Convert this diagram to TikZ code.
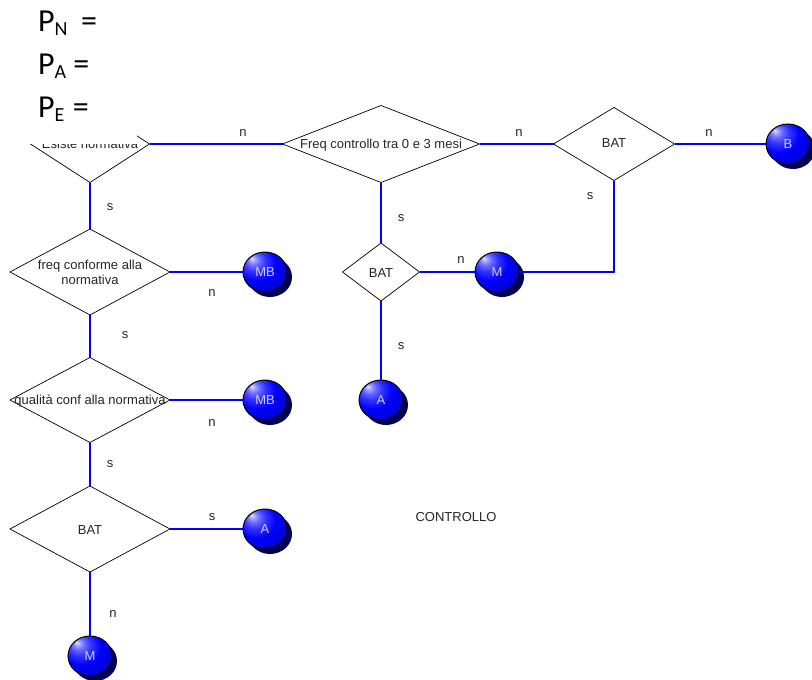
\documentclass[tikz,border=0pt]{standalone}
\usepackage{fontspec}
\setmainfont{Liberation Sans}
\newfontfamily\carlito{Carlito}
\usetikzlibrary{shapes.geometric,shadows}
\definecolor{linkblue}{RGB}{0,0,255}
\definecolor{ballshadow}{RGB}{0,0,90}
\pgfdeclareradialshading{blueball}{\pgfpoint{-15bp}{17bp}}{
  color(0bp)=(white!90!blue);
  color(3bp)=(white!65!blue);
  color(7bp)=(white!42!blue);
  color(13bp)=(white!20!blue);
  color(22bp)=(blue);
  color(32bp)=(blue!85!black);
  color(45bp)=(blue!65!black);
  color(60bp)=(blue!50!black)}
\tikzset{
  x=1pt,y=-1pt,
  dec/.style={draw=black,line width=0.7pt,shape=diamond,inner sep=0pt,outer sep=0pt},
  dectext/.style={font=\fontsize{13}{15}\selectfont,text=black!85,align=center,inner sep=0pt},
  link/.style={draw=linkblue,line width=2.2pt},
  ball/.style={shape=ellipse,draw=black,line width=1pt,minimum width=44pt,minimum height=40pt,inner sep=0pt,outer sep=0pt,
    shading=blueball,
    drop shadow={shadow xshift=5pt,shadow yshift=-5pt,opacity=1,fill=ballshadow},
    text=white!80!blue,font=\fontsize{13}{15}\selectfont},
  lab/.style={font=\fontsize{13}{15}\selectfont,text=black!85,inner sep=0pt},
  ptext/.style={font=\carlito\fontsize{32}{38}\selectfont,text=black,anchor=base west,inner sep=0pt},
}
\newcommand{\psubs}[1]{\raisebox{-4pt}{\fontsize{20}{24}\selectfont #1}}
\begin{document}
\begin{tikzpicture}
\useasboundingbox[fill=white] (0,0) rectangle (812,680);
% decisions
\node[dec,minimum width=119pt,minimum height=77pt] (d1) at (90,144) {};
\node[dectext,anchor=base] (t1) at (90,148.5) {Esiste normativa};
\fill[white] (0,90) rectangle (137,143.6);
\node[dec,minimum width=197pt,minimum height=77pt] (d2) at (381,144) {};
\node[dectext] (t2) at (381,145) {Freq controllo tra 0 e 3 mesi};
\node[dec,minimum width=121pt,minimum height=73pt] (d3) at (614,144) {};
\node[dectext] (t3) at (614,143) {BAT};
\node[dec,minimum width=77pt,minimum height=58pt] (d4) at (381,272) {};
\node[dectext] (t4) at (381,273) {BAT};
\node[dec,minimum width=160pt,minimum height=86pt] (d5) at (90,272) {};
\node[dectext] (t5) at (90,272) {freq conforme alla\\normativa};
\node[dec,minimum width=160pt,minimum height=85pt] (d6) at (90,400) {};
\node[dectext] (t6) at (90,401) {qualità conf alla normativa};
\node[dec,minimum width=160pt,minimum height=86pt] (d7) at (90,529) {};
\node[dectext] (t7) at (90,530) {BAT};
% balls
\node[ball] (bB) at (788,144) {\raisebox{-1pt}{B}};
\node[ball] (bM) at (497,272) {\raisebox{-1pt}{M}};
\node[ball] (bA) at (381,400) {\raisebox{-1pt}{A}};
\node[ball] (bMB1) at (265,272) {\raisebox{-1pt}{MB}};
\node[ball] (bMB2) at (265,400) {\raisebox{-1pt}{MB}};
\node[ball] (bA2) at (265,529) {\raisebox{-1pt}{A}};
\node[ball] (bM2) at (90,656) {\raisebox{-1pt}{M}};
% connectors
\draw[link] (d1.east) -- (d2.west);
\draw[link] (d2.east) -- (d3.west);
\draw[link] (d3.east) -- (bB.west);
\draw[link] (d3.south) |- (bM.east);
\draw[link] (d4.east) -- (bM.west);
\draw[link] (d2.south) -- (d4.north);
\draw[link] (d4.south) -- (bA.north);
\draw[link] (d1.south) -- (d5.north);
\draw[link] (d5.south) -- (d6.north);
\draw[link] (d6.south) -- (d7.north);
\draw[link] (d7.south) -- (bM2.north);
\draw[link] (d5.east) -- (bMB1.west);
\draw[link] (d6.east) -- (bMB2.west);
\draw[link] (d7.east) -- (bA2.west);
% connector labels
\node[lab] (l1) at (243,133) {n};
\node[lab] (l2) at (519,133) {n};
\node[lab] (l3) at (709,133) {n};
\node[lab] (l4) at (110,207) {s};
\node[lab] (l5) at (401,218) {s};
\node[lab] (l6) at (590,196) {s};
\node[lab] (l7) at (461,260) {n};
\node[lab] (l8) at (401,346) {s};
\node[lab] (l9) at (212,293) {n};
\node[lab] (l10) at (125,335) {s};
\node[lab] (l11) at (212,423) {n};
\node[lab] (l12) at (110,464) {s};
\node[lab] (l13) at (212,517) {s};
\node[lab] (l14) at (113,614) {n};
\node[lab] (ctrl) at (456,517) {CONTROLLO};
% top formulas
\node[ptext] (pn) at (38,31) {P\psubs{N}\hspace{0.42em}=};
\node[ptext] (pa) at (38,74) {P\psubs{A}\hspace{0.22em}=};
\node[ptext] (pe) at (38,117) {P\psubs{E}\hspace{0.26em}=};
\end{tikzpicture}
\end{document}
